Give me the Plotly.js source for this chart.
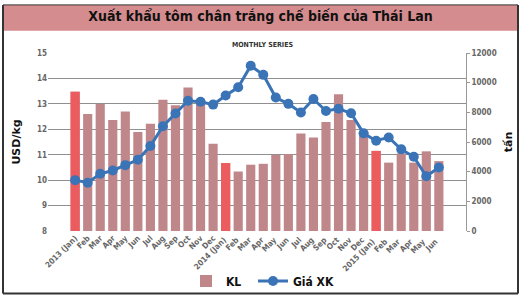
<!DOCTYPE html>
<html>
<head>
<meta charset="utf-8">
<script src="https://cdn.plot.ly/plotly-3.0.1.min.js"></script>
<style>html,body{margin:0;padding:0;background:#fff;}#chart{width:521px;height:307px;}</style>
</head>
<body>
<div id="chart"></div>
<script>
var months = ["2013 (Jan)","Feb","Mar","Apr","May","Jun","Jul","Aug","Sep","Oct","Nov","Dec",
  "2014 (Jan) ","Feb ","Mar ","Apr ","May ","Jun ","Jul ","Aug ","Sep ","Oct ","Nov ","Dec ",
  "2015 (Jan)  ","Feb  ","Mar  ","Apr  ","May  ","Jun  "];
var volumeTons = [9390,7890,8570,7490,8060,6670,7230,8850,8470,9670,8850,5880,
  4580,4010,4470,4530,5130,5190,6580,6310,7340,9220,7490,6690,
  5400,4610,5230,4610,5370,4710];
var priceUSD = [10.0,9.9,10.25,10.38,10.59,10.8,11.34,12.12,12.62,13.12,13.08,12.97,
  13.33,13.65,14.5,14.14,13.25,13.0,12.66,13.19,12.72,12.81,12.63,11.84,
  11.55,11.68,11.21,10.92,10.15,10.5];
var janVolume = volumeTons.map(function(v,i){ return months[i].indexOf("(Jan)")>=0 ? v : null; });

var W=521,H=307,L=48,R=466,T=53,B=238;
function px(x){return (x-L)/(R-L);}
function py(y){return (B-y)/(B-T);}

var traces = [
  {type:"bar", name:"KL", x:months, y:volumeTons, yaxis:"y", legend:"legend",
   marker:{color:"#c0878b", line:{width:0}}},
  {type:"bar", name:"KL Jan", x:months, y:janVolume, yaxis:"y", showlegend:false,
   marker:{color:"#ec5b5e", line:{width:0}}},
  {type:"scatter", mode:"lines+markers", name:"Giá XK", x:months, y:priceUSD, yaxis:"y2", legend:"legend2",
   line:{color:"#3a74b6", width:3}, marker:{color:"#3a74b6", size:10}}
];

var cond = "DejaVu Sans Condensed, Liberation Sans Narrow, sans-serif";
var tickFont = {family:cond, size:8, color:"#666", weight:"bold"};
var legFont = {family:cond, size:12, color:"#111", weight:"bold"};
var layout = {
  width:W, height:H,
  margin:{l:L, r:W-R, t:T, b:H-B, pad:0},
  paper_bgcolor:"#fff", plot_bgcolor:"rgba(0,0,0,0)",
  showlegend:true,
  barmode:"overlay",
  bargap:0.27,
  title:{text:"<b>Xuất khẩu tôm chân trắng chế biến của Thái Lan</b>",
    font:{family:cond, size:14, color:"#111"},
    x:0.5, xanchor:"center", y:1-16.5/H, yanchor:"middle", xref:"container", yref:"container"},
  xaxis:{type:"category", tickangle:-45, tickfont:tickFont, showgrid:false, zeroline:false,
    showline:false, ticks:"", automargin:false},
  yaxis:{range:[0,12000], side:"right", dtick:2000, tickformat:"d", tickfont:tickFont, showgrid:false, zeroline:false,
    showline:true, linecolor:"#999", linewidth:1, ticks:"outside", ticklen:3, tickcolor:"#999",
    title:{text:"<b>tấn</b>", font:{family:"DejaVu Sans, sans-serif", size:11, color:"#111"}, standoff:8},
    automargin:false},
  yaxis2:{range:[8,15], overlaying:"y", side:"left", dtick:1, tickfont:tickFont,
    showgrid:true, gridcolor:"#8f8f8f", gridwidth:1, zeroline:false, showline:false, ticks:"",
    title:{text:"<b>USD/kg</b>", font:{family:"DejaVu Sans, sans-serif", size:11, color:"#111"}, standoff:14},
    automargin:false},
  legend:{orientation:"h", x:px(186), y:py(290), xanchor:"left", yanchor:"middle",
    font:legFont, bgcolor:"rgba(0,0,0,0)", itemwidth:30},
  legend2:{orientation:"h", x:px(253), y:py(290), xanchor:"left", yanchor:"middle",
    font:legFont, bgcolor:"rgba(0,0,0,0)", itemwidth:30},
  annotations:[
    {text:"<b>MONTHLY SERIES</b>", xref:"paper", yref:"paper", x:px(262), y:py(45),
     showarrow:false, font:{family:cond, size:7, color:"#333"},
     xanchor:"center", yanchor:"middle"}
  ],
  shapes:[
    {type:"rect", xref:"paper", yref:"paper", x0:px(3), x1:px(518), y0:py(3), y1:py(30),
     fillcolor:"#d48c8e", line:{width:0}, layer:"below"},
    {type:"line", xref:"paper", yref:"paper", x0:px(3), x1:px(3), y0:py(3), y1:py(303), line:{color:"#333", width:2}},
    {type:"line", xref:"paper", yref:"paper", x0:px(518), x1:px(518), y0:py(3), y1:py(303), line:{color:"#333", width:2}},
    {type:"line", xref:"paper", yref:"paper", x0:px(3), x1:px(518), y0:py(303), y1:py(303), line:{color:"#333", width:2}},
    {type:"line", xref:"paper", yref:"paper", x0:px(3), x1:px(518), y0:py(3), y1:py(3), line:{color:"#333", width:1}}
  ]
};
Plotly.newPlot("chart", traces, layout, {displayModeBar:false, staticPlot:true});
</script>
</body>
</html>
